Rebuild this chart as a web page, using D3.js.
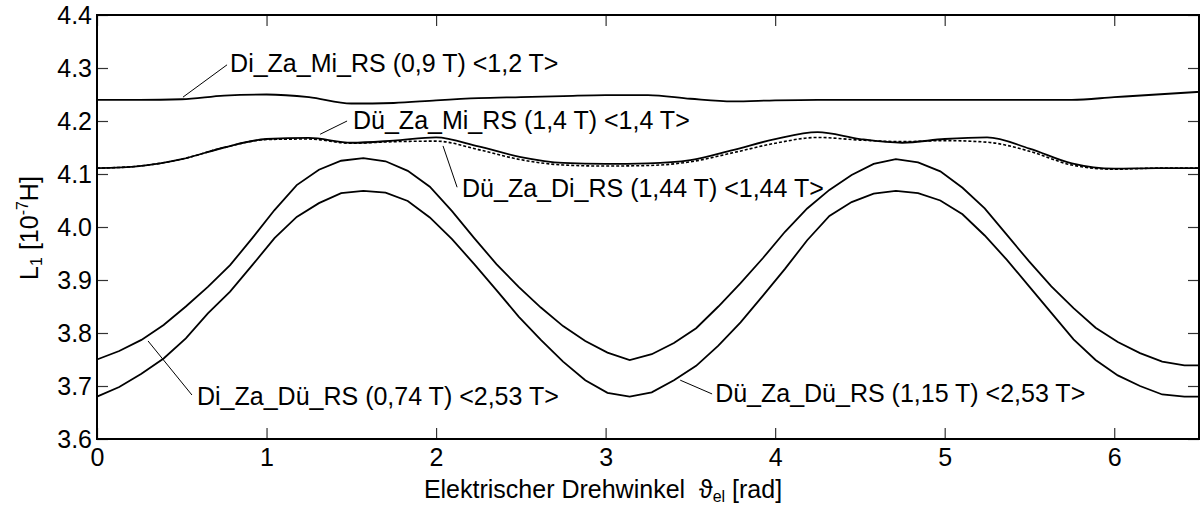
<!DOCTYPE html>
<html>
<head>
<meta charset="utf-8">
<script src="https://cdn.jsdelivr.net/npm/d3@7"></script>
<style>
  body { margin: 0; background: #fff; }
  svg text { font-family: "Liberation Sans", Arial, sans-serif; fill: #000; }
</style>
</head>
<body>
<svg id="chart" width="1200" height="506"></svg>
<script>
// sample angles (rad) of the two strongly varying curves
var angleX = [0, 0.131, 0.262, 0.393, 0.524, 0.654, 0.785, 0.916, 1.047, 1.178, 1.309, 1.440, 1.571,
  1.702, 1.833, 1.963, 2.094, 2.225, 2.356, 2.487, 2.618, 2.749, 2.880, 3.011, 3.142,
  3.272, 3.403, 3.534, 3.665, 3.796, 3.927, 4.058, 4.189, 4.320, 4.451, 4.581, 4.712,
  4.843, 4.974, 5.105, 5.236, 5.367, 5.498, 5.629, 5.760, 5.890, 6.021, 6.152, 6.283, 6.414, 6.5];

var diZaDu = [3.750, 3.766, 3.787, 3.815, 3.850, 3.887, 3.928, 3.979, 4.032, 4.079, 4.108, 4.125, 4.130,
  4.124, 4.106, 4.076, 4.030, 3.979, 3.930, 3.887, 3.848, 3.813, 3.785, 3.763, 3.749,
  3.760, 3.781, 3.809, 3.850, 3.894, 3.941, 3.991, 4.035, 4.070, 4.098, 4.119, 4.128,
  4.122, 4.105, 4.074, 4.035, 3.985, 3.935, 3.888, 3.847, 3.810, 3.783, 3.762, 3.746, 3.739, 3.739];

var duZaDu = [3.680, 3.698, 3.723, 3.752, 3.790, 3.837, 3.878, 3.928, 3.979, 4.019, 4.045, 4.064, 4.068,
  4.065, 4.049, 4.018, 3.977, 3.930, 3.881, 3.831, 3.787, 3.746, 3.711, 3.687, 3.680,
  3.688, 3.711, 3.738, 3.776, 3.820, 3.870, 3.921, 3.975, 4.021, 4.047, 4.063, 4.068,
  4.064, 4.050, 4.024, 3.984, 3.938, 3.888, 3.838, 3.788, 3.749, 3.720, 3.700, 3.684, 3.680, 3.680];

// sample angles of the flatter curves
var flatX = [0, 0.25, 0.5, 0.75, 1.0, 1.25, 1.5, 1.75, 2.0, 2.25, 2.5, 2.75, 3.0, 3.25, 3.5,
  3.75, 4.0, 4.25, 4.5, 4.75, 5.0, 5.25, 5.5, 5.75, 6.0, 6.25, 6.5];

var diZaMi = [4.240, 4.240, 4.241, 4.248, 4.250, 4.245, 4.233, 4.234, 4.239, 4.243, 4.245, 4.247, 4.249, 4.249, 4.242,
  4.237, 4.239, 4.240, 4.240, 4.240, 4.240, 4.240, 4.240, 4.240, 4.245, 4.250, 4.255];

var duZaMi = [4.111, 4.115, 4.128, 4.150, 4.166, 4.168, 4.159, 4.163, 4.169, 4.152, 4.132, 4.121, 4.119, 4.120, 4.126,
  4.145, 4.166, 4.179, 4.166, 4.159, 4.166, 4.169, 4.148, 4.120, 4.110, 4.111, 4.111];

var duZaDi = [4.111, 4.115, 4.128, 4.150, 4.165, 4.166, 4.158, 4.161, 4.162, 4.146, 4.127, 4.117, 4.115, 4.116, 4.123,
  4.140, 4.158, 4.169, 4.164, 4.161, 4.163, 4.160, 4.143, 4.117, 4.109, 4.111, 4.111];

var xTicks = [0, 1, 2, 3, 4, 5, 6];
var yTicks = [3.6, 3.7, 3.8, 3.9, 4.0, 4.1, 4.2, 4.3, 4.4];

// labels: text, leader start (on curve) and leader end, in data units
var labels = [
  { text: "Di_Za_Mi_RS (0,9 T) <1,2 T>", from: [0.507, 4.245], to: [0.767, 4.306], tx: 0.785, ty: 4.2925 },
  { text: "Dü_Za_Mi_RS (1,4 T) <1,4 T>", from: [1.316, 4.175], to: [1.475, 4.200], tx: 1.51, ty: 4.185 },
  { text: "Dü_Za_Di_RS (1,44 T) <1,44 T>", from: [2.041, 4.153], to: [2.124, 4.075], tx: 2.153, ty: 4.057 },
  { text: "Di_Za_Dü_RS (0,74 T) <2,53 T>", from: [0.301, 3.785], to: [0.560, 3.683], tx: 0.59, ty: 3.664 },
  { text: "Dü_Za_Dü_RS (1,15 T) <2,53 T>", from: [3.440, 3.711], to: [3.628, 3.685], tx: 3.646, ty: 3.670 }
];

var svg = d3.select("#chart");
var x = d3.scaleLinear().domain([0, 6.5]).range([97, 1199]);
var y = d3.scaleLinear().domain([3.6, 4.4]).range([439, 15]);

var line = d3.line().x(function(d) { return x(d[0]); }).y(function(d) { return y(d[1]); });
var smooth = d3.line().curve(d3.curveMonotoneX).x(function(d) { return x(d[0]); }).y(function(d) { return y(d[1]); });

function pairs(xs, ys) { return xs.map(function(v, i) { return [v, ys[i]]; }); }

// axes, ticks pointing inwards on all four sides
svg.append("g").attr("transform", "translate(0,439)")
  .call(d3.axisBottom(x).tickValues(xTicks).tickSizeInner(-11).tickSizeOuter(0).tickPadding(9).tickFormat(d3.format("d")))
  .call(function(g) { g.select(".domain").remove(); g.selectAll("text").attr("font-size", 25); });
svg.append("g").attr("transform", "translate(0,15)")
  .call(d3.axisTop(x).tickValues(xTicks).tickSizeInner(-11).tickSizeOuter(0).tickFormat(""))
  .call(function(g) { g.select(".domain").remove(); });
svg.append("g").attr("transform", "translate(97,0)")
  .call(d3.axisLeft(y).tickValues(yTicks).tickSizeInner(-11).tickSizeOuter(0).tickPadding(5).tickFormat(d3.format(".1f")))
  .call(function(g) { g.select(".domain").remove(); g.selectAll("text").attr("font-size", 25); });
svg.append("g").attr("transform", "translate(1199,0)")
  .call(d3.axisRight(y).tickValues(yTicks).tickSizeInner(-11).tickSizeOuter(0).tickFormat(""))
  .call(function(g) { g.select(".domain").remove(); });
svg.selectAll(".tick line").attr("stroke", "#333").attr("stroke-width", 1.2);

svg.append("rect").attr("x", x(0)).attr("y", y(4.4))
  .attr("width", x(6.5) - x(0)).attr("height", y(3.6) - y(4.4))
  .attr("fill", "none").attr("stroke", "#000").attr("stroke-width", 2);

// curves
svg.append("path").datum(pairs(flatX, diZaMi)).attr("d", smooth)
  .attr("fill", "none").attr("stroke", "#000").attr("stroke-width", 1.8);
svg.append("path").datum(pairs(flatX, duZaDi)).attr("d", smooth)
  .attr("fill", "none").attr("stroke", "#000").attr("stroke-width", 1.6).attr("stroke-dasharray", "3,2");
svg.append("path").datum(pairs(flatX, duZaMi)).attr("d", smooth)
  .attr("fill", "none").attr("stroke", "#000").attr("stroke-width", 1.8);
svg.append("path").datum(pairs(angleX, diZaDu)).attr("d", line)
  .attr("fill", "none").attr("stroke", "#000").attr("stroke-width", 1.8);
svg.append("path").datum(pairs(angleX, duZaDu)).attr("d", line)
  .attr("fill", "none").attr("stroke", "#000").attr("stroke-width", 1.8);

// annotations
labels.forEach(function(l) {
  svg.append("line")
    .attr("x1", x(l.from[0])).attr("y1", y(l.from[1]))
    .attr("x2", x(l.to[0])).attr("y2", y(l.to[1]))
    .attr("stroke", "#000").attr("stroke-width", 1);
  svg.append("text").attr("x", x(l.tx)).attr("y", y(l.ty))
    .attr("font-size", 25).text(l.text);
});

// axis titles
var xt = svg.append("text").attr("x", 603).attr("y", 498).attr("text-anchor", "middle").attr("font-size", 25);
xt.append("tspan").text("Elektrischer Drehwinkel \u00a0\u03d1");
xt.append("tspan").attr("font-size", 16).attr("dy", 4).text("el");
xt.append("tspan").attr("dy", -4).text(" [rad]");

var yt = svg.append("text").attr("transform", "translate(38,228) rotate(-90)").attr("text-anchor", "middle").attr("font-size", 25);
yt.append("tspan").text("L");
yt.append("tspan").attr("font-size", 16).attr("dy", 4).text("1");
yt.append("tspan").attr("dy", -4).text(" [10");
yt.append("tspan").attr("font-size", 16).attr("dy", -10).text("-7");
yt.append("tspan").attr("dy", 10).text("H]");
</script>
</body>
</html>
